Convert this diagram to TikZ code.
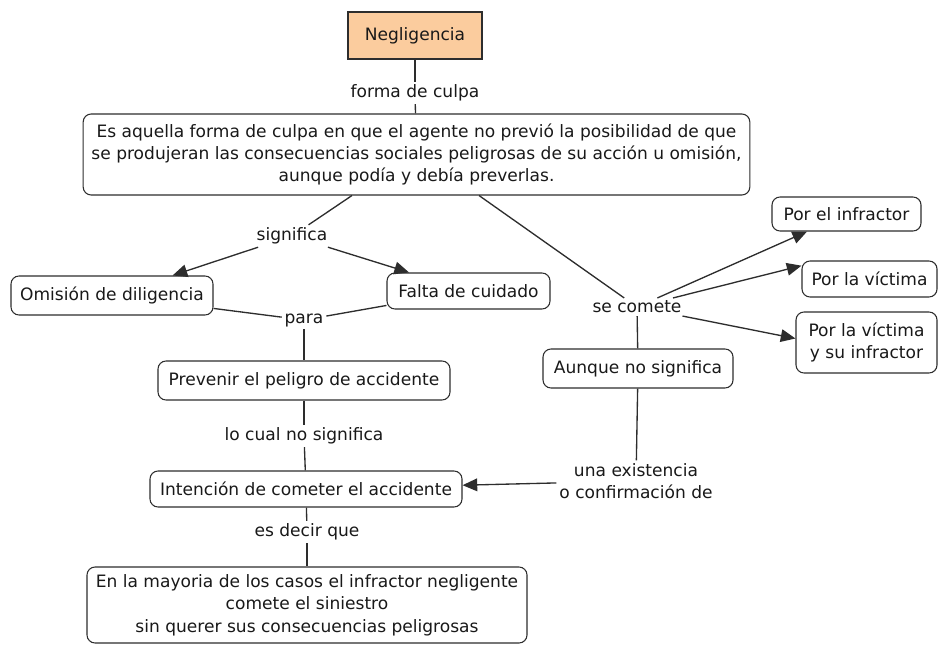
\documentclass[tikz,border=0pt]{standalone}
\usepackage{fontspec}
\setmainfont{DejaVu Sans}
\usetikzlibrary{arrows.meta}
\definecolor{peach}{RGB}{251,204,158}
\definecolor{edge}{RGB}{45,45,45}
\begin{document}
\begin{tikzpicture}[x=0.75pt,y=-0.75pt,
  every node/.style={font=\fontsize{12.8pt}{16.8pt}\selectfont, text=black!90},
  concept/.style={draw=edge, line width=0.8pt, rounded corners=6pt, fill=white, align=center, inner sep=0pt},
  phrase/.style={align=center, inner sep=2pt, fill=white},
  link/.style={draw=edge, line width=1pt},
  arr/.style={link, -{Triangle[length=11pt,width=9.5pt]}}]
\useasboundingbox (0,0) rectangle (938,645);
% concepts
\node[concept, sharp corners, fill=peach, minimum width=100.5pt, minimum height=35.25pt] (neg) at (415,35.5) {Negligencia};
\node[concept, minimum width=500pt, minimum height=60.75pt] (main) at (416.5,154.5) {Es aquella forma de culpa en que el agente no previó la posibilidad de que\\se produjeran las consecuencias sociales peligrosas de su acción u omisión,\\aunque podía y debía preverlas.};
\node[concept, minimum width=151.5pt, minimum height=29.25pt] (omi) at (112,295.5) {Omisión de diligencia};
\node[concept, minimum width=122.25pt, minimum height=27pt] (fal) at (468.5,291) {Falta de cuidado};
\node[concept, minimum width=219pt, minimum height=29.25pt] (prev) at (304,380.5) {Prevenir el peligro de accidente};
\node[concept, minimum width=234pt, minimum height=27pt] (int) at (306,489) {Intención de cometer el accidente};
\node[concept, minimum width=330pt, minimum height=57pt] (bot) at (307,605) {En la mayoria de los casos el infractor negligente\\comete el siniestro\\sin querer sus consecuencias peligrosas};
\node[concept, minimum width=142.5pt, minimum height=29.25pt] (aun) at (638,368.5) {Aunque no significa};
\node[concept, minimum width=111.75pt, minimum height=25.5pt] (pei) at (846.5,214) {Por el infractor};
\node[concept, minimum width=101.25pt, minimum height=27pt] (pv) at (869.5,279) {Por la víctima};
\node[concept, minimum width=105.75pt, minimum height=45.75pt] (pvi) at (866.5,342.5) {Por la víctima\\y su infractor};
% linking phrases
\node[phrase] (forma) at (415,93) {forma de culpa};
\node[phrase] (sig) at (292,236) {significa};
\node[phrase] (para) at (304,320) {para};
\node[phrase] (cual) at (304,436) {lo cual no significa};
\node[phrase] (dec) at (307,532) {es decir que};
\node[phrase] (sec) at (637,307) {se comete};
\node[phrase] (una) at (636,481) {una existencia\\o confirmación de};
% connectors
\draw[link] (neg) -- (forma);
\draw[link] (forma) -- (main);
\draw[link] ([xshift=-48.4pt]main.south) -- (sig);
\draw[arr] (sig) -- (omi);
\draw[arr] (sig) -- (fal);
\draw[link] (omi) -- (para);
\draw[link] (fal) -- (para);
\draw[link] (para) -- (prev);
\draw[link] (prev) -- (cual);
\draw[link] (cual) -- (int);
\draw[link] (int) -- (dec);
\draw[link] (dec) -- (bot);
\draw[link] ([xshift=46.9pt]main.south) -- (sec);
\draw[arr] (sec) -- (pei);
\draw[arr] (sec) -- ([yshift=10pt]pv.west);
\draw[arr] (sec) -- ([yshift=3pt]pvi.west);
\draw[link] (sec) -- (aun);
\draw[link] (aun) -- (una);
\draw[arr] (una) -- (int);
\end{tikzpicture}
\end{document}
